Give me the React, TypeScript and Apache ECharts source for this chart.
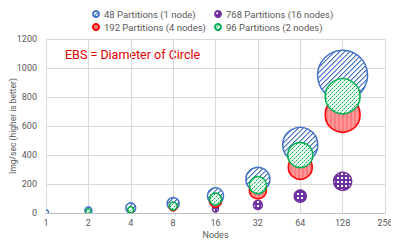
import React, { useEffect, useRef } from "react";
import * as echarts from "echarts";

const nodes48 = [1, 2, 4, 8, 16, 32, 64, 128];
const values48 = [5, 18, 35, 65, 118, 232, 470, 950];
const sizes48 = [5, 7, 10, 12, 16, 24, 35, 50];

const nodes768 = [16, 32, 64, 128];
const values768 = [28, 56, 116, 218];
const sizes768 = [6, 9, 12, 18];

const nodes192 = [4, 8, 16, 32, 64, 128];
const values192 = [16, 42, 82, 157, 315, 678];
const sizes192 = [5, 8, 12, 17, 24, 35];

const nodes96 = [2, 4, 8, 16, 32, 64, 128];
const values96 = [12, 22, 48, 96, 192, 400, 805];
const sizes96 = [5, 6, 8, 12, 17, 25, 35];

const names = [
  "48 Partitions (1 node)",
  "768 Partitions (16 nodes)",
  "192 Partitions (4 nodes)",
  "96 Partitions (2 nodes)",
];

const yTicks = [0, 200, 400, 600, 800, 1000, 1200];

const FONT = "Roboto";

function pts(xs: number[], ys: number[], ss: number[]) {
  return xs.map((x, i) => [x, ys[i], ss[i]]);
}

function tile(size: number, bg: string, paint: (x: number, y: number) => string | null) {
  const c = document.createElement("canvas");
  c.width = size;
  c.height = size;
  const ctx = c.getContext("2d")!;
  ctx.fillStyle = bg;
  ctx.fillRect(0, 0, size, size);
  for (let y = 0; y < size; y++) {
    for (let x = 0; x < size; x++) {
      const col = paint(x, y);
      if (col) {
        ctx.fillStyle = col;
        ctx.fillRect(x, y, 1, 1);
      }
    }
  }
  return { image: c.toDataURL(), imageWidth: size, imageHeight: size, repeat: "repeat" };
}

export default function App() {
  const ref = useRef<HTMLDivElement>(null);
  useEffect(() => {
    if (!ref.current) return;
    const chart = echarts.init(ref.current, undefined, { renderer: "svg" });

    const blueFill = tile(5, "#ffffff", (x, y) => {
      const k = (x + y) % 5;
      return k === 0 ? "#4472C4" : k === 1 ? "#9fb6e0" : null;
    });
    const redFill = tile(4, "#ff7c80", (x) => (x < 2 ? "#ff9799" : null));
    const greenFill = tile(4, "#eefaf1", (x, y) =>
      (x === 0 && y === 0) || (x === 2 && y === 2) ? "#00B050" : (x === 1 && y === 3) || (x === 3 && y === 1) ? "#8fd6a8" : null
    );
    const purpleFill = tile(4, "#7030A0", (x, y) => (x >= 1 && x <= 2 && y >= 1 && y <= 2 ? "#ffffff" : null));

    const bubble = (name: string, z: number, data: number[][], fill: any, stroke: string) => ({
      type: "custom",
      name,
      z,
      clip: true,
      encode: { x: 0, y: 1 },
      data,
      itemStyle: { color: fill, borderColor: stroke, borderWidth: 1.5 },
      renderItem: (_params: any, api: any) => {
        const p = api.coord([api.value(0), api.value(1)]);
        const r = api.value(2) / 2;
        return {
          type: "circle",
          shape: { cx: p[0], cy: p[1], r },
          style: { fill, stroke, lineWidth: 1.5 },
        };
      },
    });

    const legendText = { fontSize: 9.5, color: "#595959", fontFamily: FONT };
    chart.setOption({
      animation: false,
      textStyle: { fontFamily: FONT },
      graphic: [
        {
          type: "rect",
          shape: { x: 0.5, y: 0.5, width: 397.5, height: 247 },
          style: { fill: "none", stroke: "#d9d9d9", lineWidth: 1 },
          silent: true,
        },
        {
          type: "text",
          left: 65,
          top: 48,
          style: {
            text: "EBS = Diameter of Circle",
            fill: "#e00000",
            font: `12.5px ${FONT}`,
          },
        },
      ],
      legend: [
        {
          orient: "vertical",
          left: 92,
          top: 9,
          padding: 0,
          itemGap: 3,
          itemWidth: 6,
          itemHeight: 6,
          icon: "circle",
          data: [names[0], names[2]],
          textStyle: legendText,
        },
        {
          orient: "vertical",
          left: 214,
          top: 9,
          padding: 0,
          itemGap: 3,
          itemWidth: 6,
          itemHeight: 6,
          icon: "circle",
          data: [names[1], names[3]],
          textStyle: legendText,
        },
      ],
      grid: { left: 46, right: 14, top: 39, bottom: 36, outerBoundsMode: "none", containLabel: false },
      xAxis: {
        type: "log",
        logBase: 2,
        min: 1,
        max: 256,
        splitNumber: 8,
        name: "Nodes",
        nameLocation: "middle",
        nameGap: 17,
        nameMoveOverlap: false,
        nameTextStyle: { fontSize: 9, color: "#595959", fontFamily: FONT },
        axisLine: { show: true, lineStyle: { color: "#bfbfbf" } },
        axisTick: { show: false },
        axisLabel: { fontSize: 9, color: "#595959", margin: 5, fontFamily: FONT },
        splitLine: { show: true, lineStyle: { color: "#d9d9d9" } },
        minorTick: { show: false },
        minorSplitLine: { show: false },
      },
      yAxis: {
        type: "value",
        min: 0,
        max: 1200,
        interval: 200,
        name: "Img/sec (higher is better)",
        nameLocation: "middle",
        nameGap: 29,
        nameMoveOverlap: false,
        nameTextStyle: { fontSize: 8.5, color: "#595959", fontFamily: FONT },
        axisLine: { show: false },
        axisTick: { show: false },
        axisLabel: {
          fontSize: 9,
          color: "#595959",
          margin: 9,
          fontFamily: FONT,
          formatter: (v: number) => (yTicks.includes(v) ? String(v) : ""),
        },
        splitLine: { show: true, lineStyle: { color: "#d9d9d9" } },
      },
      series: [
        bubble(names[0], 2, pts(nodes48, values48, sizes48), blueFill, "#4472C4"),
        bubble(names[1], 3, pts(nodes768, values768, sizes768), purpleFill, "#7030A0"),
        bubble(names[2], 4, pts(nodes192, values192, sizes192), redFill, "#FF0000"),
        bubble(names[3], 5, pts(nodes96, values96, sizes96), greenFill, "#00B050"),
      ],
    });
    return () => chart.dispose();
  }, []);
  return <div ref={ref} style={{ width: 399, height: 249, margin: -8 }} />;
}
